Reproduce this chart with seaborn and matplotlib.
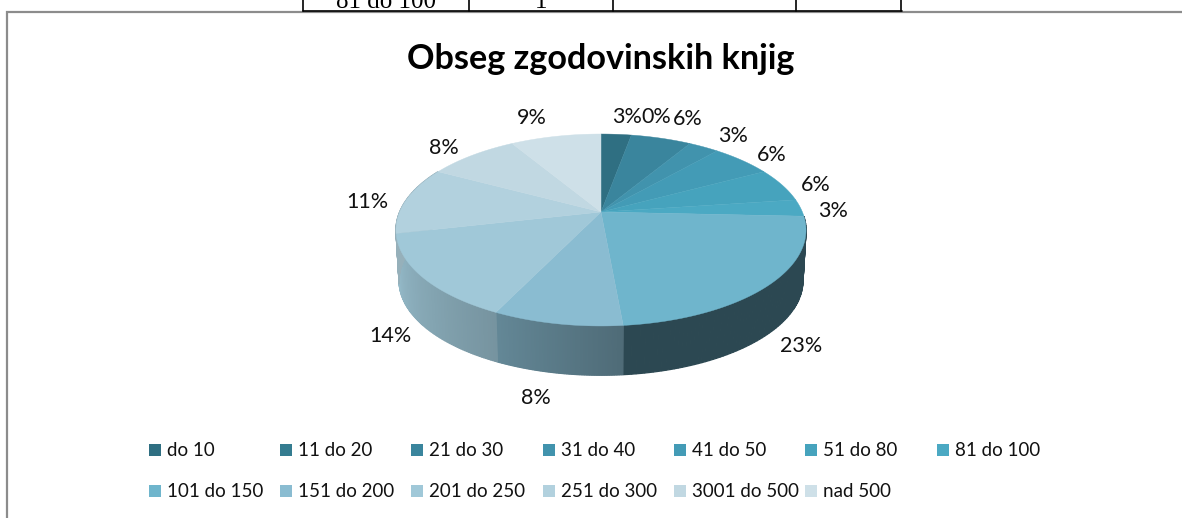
import numpy as np
import matplotlib
matplotlib.use("Agg")
import matplotlib.pyplot as plt
from matplotlib.patches import Rectangle
import seaborn as sns

title = "Obseg zgodovinskih knjig"
categories = ["do 10", "11 do 20", "21 do 30", "31 do 40", "41 do 50", "51 do 80", "81 do 100",
              "101 do 150", "151 do 200", "201 do 250", "251 do 300", "3001 do 500", "nad 500"]
counts = [1, 0, 2, 1, 2, 2, 1, 8, 3, 5, 4, 3, 3]
percent_labels = ["3%", "0%", "6%", "3%", "6%", "6%", "3%", "23%", "8%", "14%", "11%", "8%", "9%"]
colors = ["#2F6F82", "#347C90", "#3A859D", "#4193AD", "#439BB6", "#46A3BD", "#4BA9C3",
          "#6FB5CC", "#8ABCD1", "#A0C8D8", "#B2D1DE", "#C1D8E2", "#CEE0E8"]
table_cells = ["81 do 100", "1"]

sns.set_theme(style="white")
plt.rcParams["font.family"] = ["Lato", "DejaVu Sans"]
palette = sns.color_palette(colors)

fig = plt.figure(figsize=(11.82, 5.18), dpi=100)
ax = fig.add_axes([0, 0, 1, 1])
ax.set_xlim(0, 1182)
ax.set_ylim(518, 0)
ax.axis("off")

# layout of the tilted pie
CX, CY, RX, A, K = 601, 212, 201.4, 92.6, 0.1875
DEPTH, BOT_SCALE = 51, 0.985


def rim(theta, r=1.0):
    x, y = r * np.sin(theta), r * np.cos(theta)
    d = 1 + K * y
    return RX * x / d, A * y / d


def top(theta):
    dx, dy = rim(theta)
    return CX + dx, CY - dy


def bottom(theta):
    dx, dy = rim(theta)
    return CX + BOT_SCALE * dx, CY + DEPTH - BOT_SCALE * dy


edges = np.concatenate([[0], np.cumsum(counts)]) / sum(counts) * 2 * np.pi
# wall brightness (start, end) of each slice, clockwise
shades = {7: (0.40, 0.40), 8: (0.57, 0.72), 9: (0.74, 0.93), 10: (0.84, 0.84)}

for i, (a0, a1) in enumerate(zip(edges[:-1], edges[1:])):
    if i not in shades or a1 <= a0:
        continue
    s0, s1 = shades[i]
    th = np.linspace(a0, a1, 80)
    for t0, t1, f in zip(th[:-1], th[1:], np.linspace(s0, s1, 79)):
        c = tuple(np.clip(np.array(palette[i]) * f, 0, 1))
        xs = [top(t0)[0], top(t1)[0], bottom(t1)[0], bottom(t0)[0]]
        ys = [top(t0)[1], top(t1)[1], bottom(t1)[1], bottom(t0)[1]]
        ax.fill(xs, ys, facecolor=c, edgecolor=c, lw=0.9, zorder=2)

for i, (a0, a1) in enumerate(zip(edges[:-1], edges[1:])):
    if a1 <= a0:
        continue
    th = np.linspace(a0, a1, 120)
    px, py = top(th)
    ax.fill(np.r_[CX, px], np.r_[CY, py], facecolor=palette[i], edgecolor=palette[i], lw=0.3, zorder=3)

# percentage labels
label_xy = [(627, 117), (656, 117), (688, 119), (733, 136), (772, 155), (816, 185), (833, 211),
            (801, 346), (536, 398), (390, 336), (367, 202), (444, 148), (532, 118)]
for text, (lx, ly) in zip(percent_labels, label_xy):
    ax.text(lx, ly, text, ha="center", va="center", fontsize=15.5, color="#111111", zorder=5)

ax.text(601, 59, title, ha="center", va="center", fontsize=24.6, fontweight="bold",
        color="black", zorder=5)

# legend
col_x = [149, 280, 411, 543, 674, 805, 937]
row_y = [450, 491]
for i, name in enumerate(categories):
    x, y = col_x[i % 7], row_y[i // 7]
    ax.add_patch(Rectangle((x, y - 6), 12, 12, color=palette[i], lw=0, zorder=4))
    ax.text(x + 18, y + 0.5, name, ha="left", va="center", fontsize=13.5, color="#111111", zorder=5)

# chart frame
ax.plot([7, 7, 1182], [518, 12, 12], color="#8C8C8C", lw=1.6, solid_joinstyle="miter", zorder=1)

# table remnant above the chart
for vx in [303, 469, 613, 796, 901]:
    ax.plot([vx, vx], [0, 10.5], color="black", lw=1.2, zorder=1)
ax.plot([302.5, 901.5], [10.5, 10.5], color="black", lw=1.2, zorder=1)
ax.text(386, 8.5, table_cells[0], ha="center", va="baseline", fontsize=18,
        family="Liberation Serif", color="black", clip_on=True)
ax.text(541, 8.5, table_cells[1], ha="center", va="baseline", fontsize=18,
        family="Liberation Serif", color="black", clip_on=True)

fig.savefig("out.png", dpi=100)
